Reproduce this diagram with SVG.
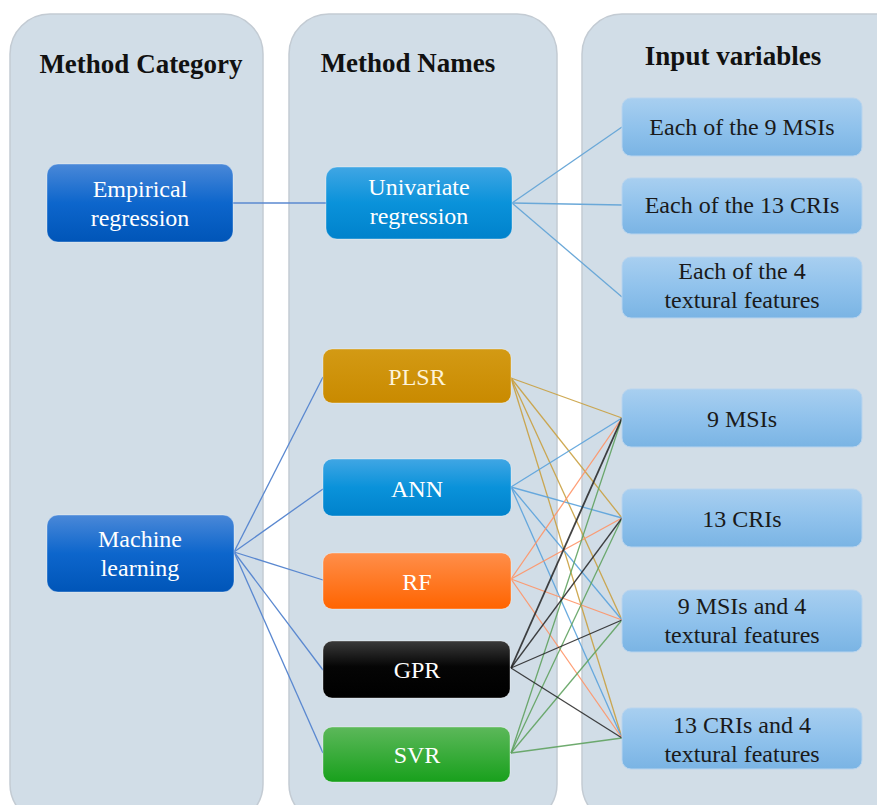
<svg xmlns="http://www.w3.org/2000/svg" width="877" height="805" viewBox="0 0 877 805" font-family="Liberation Serif, DejaVu Serif, Times New Roman, serif">
<defs>
<linearGradient id="gDark" x1="0" y1="0" x2="0" y2="1"><stop offset="0" stop-color="#4a88d8"/><stop offset="0.5" stop-color="#0d66cc"/><stop offset="1" stop-color="#0055b8"/></linearGradient>
<linearGradient id="gMid" x1="0" y1="0" x2="0" y2="1"><stop offset="0" stop-color="#40a6e4"/><stop offset="0.5" stop-color="#0a92da"/><stop offset="1" stop-color="#0082cc"/></linearGradient>
<linearGradient id="gGold" x1="0" y1="0" x2="0" y2="1"><stop offset="0" stop-color="#d39a14"/><stop offset="1" stop-color="#c98a00"/></linearGradient>
<linearGradient id="gOrange" x1="0" y1="0" x2="0" y2="1"><stop offset="0" stop-color="#ff8e4a"/><stop offset="1" stop-color="#ff6400"/></linearGradient>
<linearGradient id="gBlack" x1="0" y1="0" x2="0" y2="1"><stop offset="0" stop-color="#3a3a3a"/><stop offset="0.45" stop-color="#050505"/><stop offset="1" stop-color="#000"/></linearGradient>
<linearGradient id="gGreen" x1="0" y1="0" x2="0" y2="1"><stop offset="0" stop-color="#5cb85a"/><stop offset="1" stop-color="#18a01c"/></linearGradient>
<linearGradient id="gLight" x1="0" y1="0" x2="0" y2="1"><stop offset="0" stop-color="#a8cff0"/><stop offset="0.5" stop-color="#90c2ec"/><stop offset="1" stop-color="#7ab4e4"/></linearGradient>
</defs>
<style>
.panel{fill:#d1dde7;stroke:#c3cbd3;stroke-width:1.5}
.hdr{font-weight:bold;font-size:27px;fill:#111;text-anchor:middle}
.t{font-size:24px;text-anchor:middle}
.w{fill:#fff}
.k{fill:#1a1a1a}
.node{stroke:#ffffff;stroke-opacity:0.35;stroke-width:1}
.in{fill:url(#gLight);stroke:#b8d4ee;stroke-width:1}
#connectors line{stroke-width:1.3;fill:none}
.cb{stroke:#5a88d0}
.cu{stroke:#6aa8d8}
.cp{stroke:#c9a040;stroke-opacity:0.9}
.ca{stroke:#5aa2dc;stroke-opacity:0.9}
.cr{stroke:#ff9466;stroke-opacity:0.9}
.cg{stroke:#222;stroke-opacity:0.85}
.cs{stroke:#5fa25f;stroke-opacity:0.9}
</style>
<rect width="877" height="805" fill="#ffffff"/>
<g id="panels">
<rect class="panel" x="10" y="14" width="253" height="810" rx="40"/>
<rect class="panel" x="289" y="14" width="268" height="810" rx="40"/>
<rect class="panel" x="582" y="14" width="340" height="810" rx="40"/>
<text class="hdr" x="141" y="73">Method Category</text>
<text class="hdr" x="408" y="72">Method Names</text>
<text class="hdr" x="733" y="65">Input variables</text>
</g>
<g id="connectors">
<line class="cb" x1="233" y1="203" x2="326" y2="203"/>
<line class="cu" x1="512" y1="203" x2="622" y2="127"/>
<line class="cu" x1="512" y1="203" x2="622" y2="205"/>
<line class="cu" x1="512" y1="203" x2="622" y2="297"/>
<line class="cb" x1="234" y1="552" x2="323" y2="377"/>
<line class="cb" x1="234" y1="552" x2="323" y2="489"/>
<line class="cb" x1="234" y1="552" x2="323" y2="580"/>
<line class="cb" x1="234" y1="552" x2="323" y2="670"/>
<line class="cb" x1="234" y1="552" x2="323" y2="753"/>
<line class="cp" x1="511" y1="378" x2="622" y2="418"/>
<line class="cp" x1="511" y1="378" x2="622" y2="518"/>
<line class="cp" x1="511" y1="378" x2="622" y2="620"/>
<line class="cp" x1="511" y1="378" x2="622" y2="738"/>
<line class="ca" x1="511" y1="487" x2="622" y2="418"/>
<line class="ca" x1="511" y1="487" x2="622" y2="518"/>
<line class="ca" x1="511" y1="487" x2="622" y2="620"/>
<line class="ca" x1="511" y1="487" x2="622" y2="738"/>
<line class="cr" x1="511" y1="579" x2="622" y2="418"/>
<line class="cr" x1="511" y1="579" x2="622" y2="518"/>
<line class="cr" x1="511" y1="579" x2="622" y2="620"/>
<line class="cr" x1="511" y1="579" x2="622" y2="738"/>
<line class="cs" x1="511" y1="753" x2="622" y2="418"/>
<line class="cs" x1="511" y1="753" x2="622" y2="518"/>
<line class="cs" x1="511" y1="753" x2="622" y2="620"/>
<line class="cs" x1="511" y1="753" x2="622" y2="738"/>
<line class="cg" x1="511" y1="668" x2="622" y2="418" style="stroke-width:1.8"/>
<line class="cg" x1="511" y1="668" x2="622" y2="518"/>
<line class="cg" x1="511" y1="668" x2="622" y2="620"/>
<line class="cg" x1="511" y1="668" x2="622" y2="738"/>
</g>
<g id="n-empirical">
<rect class="node" x="47" y="164" width="186" height="78" rx="11" fill="url(#gDark)"/>
<text class="t w" x="140" y="197">Empirical</text>
<text class="t w" x="140" y="226">regression</text>
</g>
<g id="n-machine">
<rect class="node" x="47" y="515" width="187" height="77" rx="11" fill="url(#gDark)"/>
<text class="t w" x="140" y="547">Machine</text>
<text class="t w" x="140" y="576">learning</text>
</g>
<g id="n-univariate">
<rect class="node" x="326" y="167" width="186" height="72" rx="11" fill="url(#gMid)"/>
<text class="t w" x="419" y="195">Univariate</text>
<text class="t w" x="419" y="224">regression</text>
</g>
<g id="n-plsr">
<rect class="node" x="323" y="349" width="188" height="54" rx="9" fill="url(#gGold)"/>
<text class="t" x="417" y="385" fill="#fdf3da">PLSR</text>
</g>
<g id="n-ann">
<rect class="node" x="323" y="459" width="188" height="57" rx="9" fill="url(#gMid)"/>
<text class="t w" x="417" y="497">ANN</text>
</g>
<g id="n-rf">
<rect class="node" x="323" y="553" width="188" height="56" rx="9" fill="url(#gOrange)"/>
<text class="t w" x="417" y="590">RF</text>
</g>
<g id="n-gpr">
<rect class="node" x="323" y="641" width="187" height="57" rx="9" fill="url(#gBlack)"/>
<text class="t w" x="417" y="678">GPR</text>
</g>
<g id="n-svr">
<rect class="node" x="323" y="727" width="187" height="55" rx="9" fill="url(#gGreen)"/>
<text class="t w" x="417" y="763">SVR</text>
</g>
<g id="n-each9">
<rect class="in" x="622" y="98" width="240" height="58" rx="9"/>
<text class="t k" x="742" y="135">Each of the 9 MSIs</text>
</g>
<g id="n-each13">
<rect class="in" x="622" y="178" width="240" height="56" rx="9"/>
<text class="t k" x="742" y="213">Each of the 13 CRIs</text>
</g>
<g id="n-each4">
<rect class="in" x="622" y="257" width="240" height="61" rx="9"/>
<text class="t k" x="742" y="279">Each of the 4</text>
<text class="t k" x="742" y="308">textural features</text>
</g>
<g id="n-9msi">
<rect class="in" x="622" y="389" width="240" height="58" rx="9"/>
<text class="t k" x="742" y="427">9 MSIs</text>
</g>
<g id="n-13cri">
<rect class="in" x="622" y="489" width="240" height="58" rx="9"/>
<text class="t k" x="742" y="527">13 CRIs</text>
</g>
<g id="n-9msi4">
<rect class="in" x="622" y="590" width="240" height="62" rx="9"/>
<text class="t k" x="742" y="614">9 MSIs and 4</text>
<text class="t k" x="742" y="643">textural features</text>
</g>
<g id="n-13cri4">
<rect class="in" x="622" y="708" width="240" height="61" rx="9"/>
<text class="t k" x="742" y="733">13 CRIs and 4</text>
<text class="t k" x="742" y="762">textural features</text>
</g>
</svg>
